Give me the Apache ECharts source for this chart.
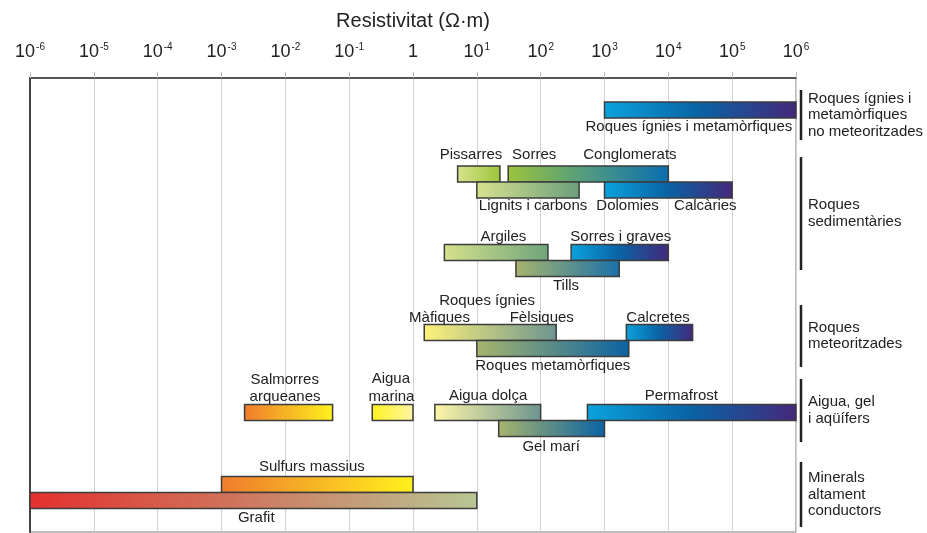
<!DOCTYPE html>
<html>
<head>
<meta charset="utf-8">
<script src="https://cdn.jsdelivr.net/npm/echarts@6/dist/echarts.min.js"></script>
<style>
  html, body { margin: 0; padding: 0; background: #fff; }
  #chart { width: 927px; height: 533px; }
</style>
</head>
<body>
<div id="chart"></div>
<script>
// resistivity ranges in ohm·m, lane = vertical row (in bar heights, from the top)
var barNames = ['Roques ígnies i metamòrfiques', 'Pissarres', 'Sorres / Conglomerats', 'Lignits i carbons',
  'Dolomies / Calcàries', 'Argiles', 'Sorres i graves', 'Tills', 'Roques ígnies', 'Calcretes',
  'Roques metamòrfiques', 'Salmorres arqueanes', 'Aigua marina', 'Aigua dolça', 'Permafrost',
  'Gel marí', 'Sulfurs massius', 'Grafit'];
var barLow  = [1e3, 5, 31, 10, 1e3, 3.1, 300, 41, 1.5, 2200, 10, 0.0023, 0.23, 2.2, 540, 22, 1e-3, 1e-6];
var barHigh = [1e6, 23, 1e4, 400, 1e5, 130, 1e4, 1700, 175, 24000, 2400, 0.055, 1, 100, 1e6, 1000, 1, 10];
var barLane = [2, 6, 6, 7, 7, 10.9, 10.9, 11.9, 15.9, 15.9, 16.9, 20.9, 20.9, 20.9, 20.9, 21.9, 25.4, 26.4];

var BLUE = ['#0aa3dd', '#0a62a4', '#45287a'];
var barColors = [
  BLUE,
  ['#d8e38c', '#9cc43c'],
  ['#9cc43c', '#4f9a82', '#0a6db0'],
  ['#d8e28e', '#6a9e7c'],
  BLUE,
  ['#d6e18c', '#6ea47c'],
  BLUE,
  ['#a8b56c', '#1a70aa'],
  ['#fff27a', '#6c9490'],
  BLUE,
  ['#a8b56c', '#0a62a4'],
  ['#f07c2c', '#fff21e'],
  ['#fff21e', '#fff6a6'],
  ['#fff6a6', '#6c9490'],
  BLUE,
  ['#a8b56c', '#0a62a4'],
  ['#f07c2c', '#fff21e'],
  ['#e3302e', '#b8c694']
];

// bar captions: text, position in ohm·m, lane
var labelText = ['Roques ígnies i metamòrfiques', 'Pissarres', 'Sorres', 'Conglomerats', 'Lignits i carbons',
  'Dolomies', 'Calcàries', 'Argiles', 'Sorres i graves', 'Tills', 'Roques ígnies', 'Màfiques', 'Fèlsiques',
  'Calcretes', 'Roques metamòrfiques', 'Salmorres', 'arqueanes', 'Aigua', 'marina', 'Aigua dolça',
  'Permafrost', 'Gel marí', 'Sulfurs massius', 'Grafit'];
var labelAt = [2.1e4, 8.1, 79, 2500, 76, 2300, 3.8e4, 26, 1800, 250, 14.5, 2.6, 104, 6900, 155,
  0.0098, 0.0099, 0.45, 0.46, 15, 1.6e4, 146, 0.026, 0.0035];
var labelLane = [3.04, 4.81, 4.81, 4.81, 8.0, 8.0, 8.0, 9.92, 9.92, 12.98, 13.94, 14.96, 14.96, 14.96, 17.98,
  18.88, 19.94, 18.81, 19.94, 19.88, 19.88, 23.04, 24.31, 27.48];

// groups on the right
var groupText = ['Roques ígnies i\nmetamòrfiques\nno meteoritzades', 'Roques\nsedimentàries',
  'Roques\nmeteoritzades', 'Aigua, gel\ni aqüífers', 'Minerals\naltament\nconductors'];
var groupFrom = [0.75, 4.94, 14.19, 18.81, 24.0];
var groupTo   = [3.88, 12.0, 18.06, 22.75, 28.06];

var decades = [-6, -5, -4, -3, -2, -1, 0, 1, 2, 3, 4, 5, 6];

var FONT = '"Liberation Sans", Arial, sans-serif';

var barData = barLow.map(function (v, i) {
  return [Math.log10(v), Math.log10(barHigh[i]), barLane[i]];
});
var labelData = labelText.map(function (t, i) {
  return [Math.log10(labelAt[i]), labelLane[i], t];
});
var groupData = groupText.map(function (t, i) {
  return [decades[decades.length - 1], groupFrom[i], groupTo[i], t];
});

var chart = echarts.init(document.getElementById('chart'));

chart.setOption({
  animation: false,
  grid: {
    left: 30, right: 131, top: 78, bottom: 1,
    show: true, borderColor: '#7a7a7a', borderWidth: 1
  },
  xAxis: {
    type: 'value',
    position: 'top',
    min: -6, max: 6, interval: 1,
    name: 'Resistivitat (Ω·m)',
    nameLocation: 'middle',
    nameGap: 47,
    nameTextStyle: { fontSize: 20, color: '#222', fontFamily: FONT },
    axisLine: { show: true, onZero: false, lineStyle: { color: '#555', width: 2 } },
    axisTick: { show: true, length: 6, lineStyle: { color: '#bbb' } },
    splitLine: { show: true, lineStyle: { color: '#d2d2d2', width: 1 } },
    axisLabel: {
      margin: 17,
      formatter: function (v) {
        return v === 0 ? '{b|1}' : '{b|10}{s|' + v + '}';
      },
      rich: {
        b: { fontSize: 18, color: '#222', fontFamily: FONT, verticalAlign: 'bottom' },
        s: { fontSize: 10, color: '#222', fontFamily: FONT, verticalAlign: 'bottom', padding: [0, 0, 9, 1] }
      }
    }
  },
  yAxis: {
    type: 'value',
    inverse: true,
    min: 0, max: 28.375,
    axisLine: { show: true, onZero: false, lineStyle: { color: '#444', width: 2 } },
    axisTick: { show: false },
    axisLabel: { show: false },
    splitLine: { show: false }
  },
  series: [
    {
      type: 'custom',
      data: barData,
      renderItem: function (params, api) {
        var p0 = api.coord([api.value(0), api.value(2)]);
        var p1 = api.coord([api.value(1), api.value(2)]);
        var h = api.size([0, 1])[1];
        var cols = barColors[params.dataIndex];
        var stops = cols.map(function (c, k) {
          return { offset: k / (cols.length - 1), color: c };
        });
        return {
          type: 'rect',
          shape: { x: p0[0], y: p0[1] - h / 2, width: p1[0] - p0[0], height: h },
          style: {
            fill: new echarts.graphic.LinearGradient(0, 0, 1, 0, stops),
            stroke: '#3c3c3c',
            lineWidth: 1.5
          }
        };
      }
    },
    {
      type: 'custom',
      data: labelData,
      clip: false,
      renderItem: function (params, api) {
        var p = api.coord([api.value(0), api.value(1)]);
        return {
          type: 'text',
          x: p[0], y: p[1],
          style: {
            text: labelText[params.dataIndex],
            fontSize: 15,
            fontFamily: FONT,
            fill: '#222',
            align: 'center',
            verticalAlign: 'middle'
          }
        };
      }
    },
    {
      type: 'custom',
      data: groupData,
      clip: false,
      renderItem: function (params, api) {
        var a = api.coord([api.value(0), api.value(1)]);
        var b = api.coord([api.value(0), api.value(2)]);
        var x = a[0] + 5;
        return {
          type: 'group',
          children: [
            {
              type: 'line',
              shape: { x1: x, y1: a[1], x2: x, y2: b[1] },
              style: { stroke: '#222', lineWidth: 2.5 }
            },
            {
              type: 'text',
              x: x + 7, y: (a[1] + b[1]) / 2,
              style: {
                text: groupText[params.dataIndex],
                fontSize: 15,
                lineHeight: 16.5,
                fontFamily: FONT,
                fill: '#222',
                align: 'left',
                verticalAlign: 'middle'
              }
            }
          ]
        };
      }
    }
  ]
});
</script>
</body>
</html>
